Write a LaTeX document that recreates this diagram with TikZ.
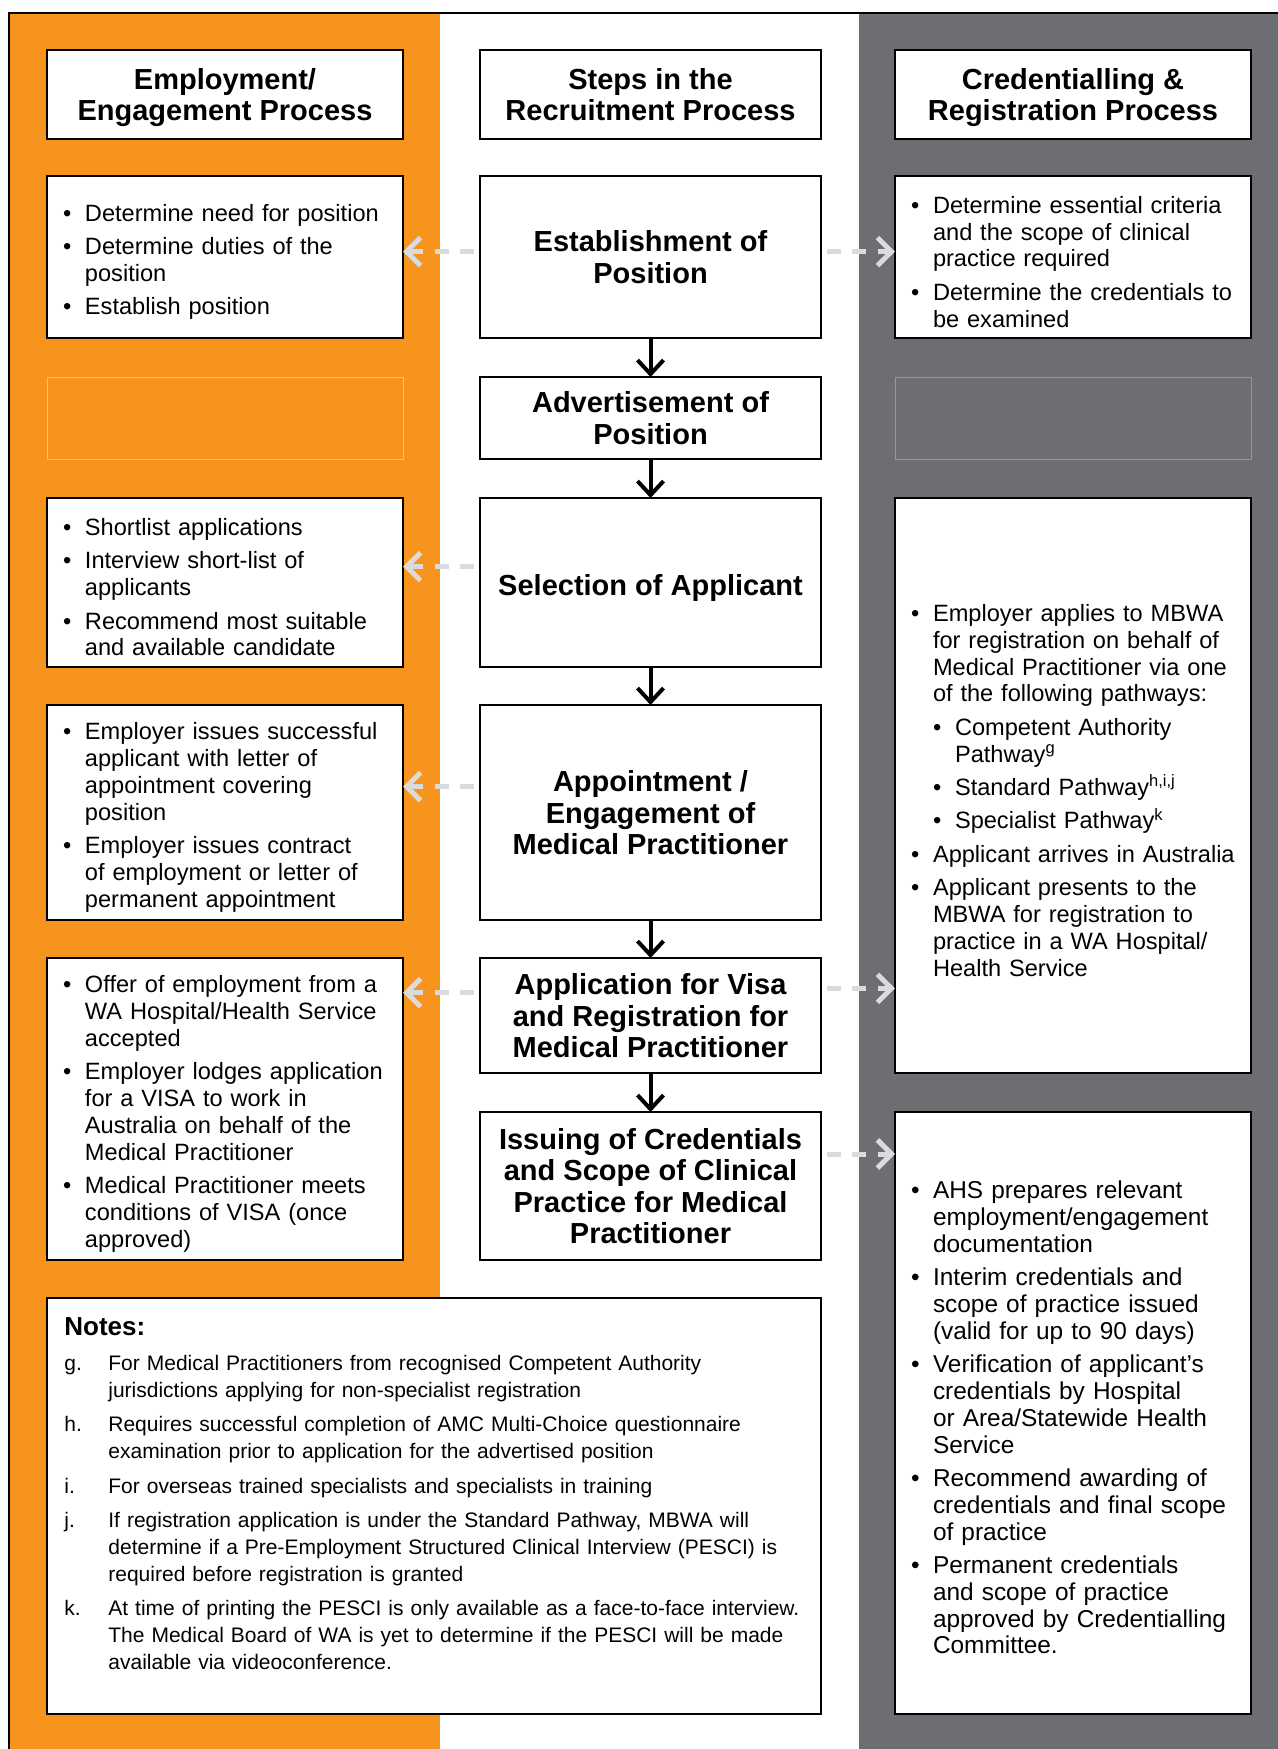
\documentclass[tikz,border=0pt]{standalone}
\usepackage{fontspec}
\setmainfont{Liberation Sans}
\usetikzlibrary{arrows.meta,positioning}
\definecolor{laneorange}{RGB}{247,148,30}
\definecolor{lanegrey}{RGB}{109,110,113}
\definecolor{arrowgrey}{RGB}{218,219,220}
\definecolor{faintorange}{RGB}{251,190,120}
\definecolor{faintgrey}{RGB}{150,151,154}
\newcommand{\ls}{\rule{0pt}{12.8pt}}
\newcommand{\bul}[2][3.3pt]{\par\ifdim#1>0pt\vspace{#1}\fi\hangindent=13pt\hangafter=1\noindent\hspace*{2pt}\makebox[11pt][l]{\textbullet}#2\par}
\newcommand{\sbul}[1]{\par\vspace{3.3pt}\hangindent=24pt\hangafter=1\noindent\hspace*{13pt}\makebox[11pt][l]{\textbullet}#1\par}
\newcommand{\nte}[3][3.8pt]{\par\vspace{#1}\hangindent=22pt\hangafter=1\noindent\makebox[22pt][l]{#2}#3\par}

\begin{document}
\begin{tikzpicture}[x=1pt,y=1pt,
   hd/.style={draw,line width=1.1pt,fill=white,outer sep=0pt,inner sep=3pt,minimum height=44.5pt,
              align=center,font=\fontsize{14.5}{15.8}\selectfont\bfseries,
              text depth=0pt,execute at begin node=\ls},
   stp/.style={hd,minimum width=170.5pt},
   sd/.style={draw,line width=1.1pt,fill=white,outer sep=0pt,inner xsep=6pt,inner ysep=2pt,
              minimum width=178pt,text width=166pt,align=left,font=\fontsize{11.8}{13.4}\selectfont},
   fb/.style={draw,line width=0.4pt,outer sep=0pt,minimum width=178pt,minimum height=41pt},
   dn/.style={-{Straight Barb[length=7pt,width=13pt]},line width=2pt},
   sa/.style={-{Straight Barb[length=7pt,width=14pt]},line width=2.5pt,arrowgrey,
              dash pattern=on 7pt off 5.7pt,shorten <=3pt}]
  \useasboundingbox (0,0) rectangle (639,-874.5);
  \fill[laneorange] (4.5,-6.5) rectangle (220,-874.5);
  \fill[lanegrey] (429.5,-6.5) rectangle (639,-874.5);
  \draw[line width=1.1pt] (4.5,-874.5) -- (4.5,-6.5) -- (639,-6.5);

  \node[stp] (hst) at (325.25,-47.25) {Steps in the\\Recruitment Process};
  \node[hd,minimum width=178pt,left=38.5pt of hst] (hemp) {Employment/\\Engagement Process};
  \node[hd,minimum width=178pt,right=37pt of hst] (hcred) {Credentialling \&\\Registration Process};

  \node[stp,minimum height=81pt,below=18.5pt of hst] (est) {Establishment of\\Position};
  \node[stp,minimum height=41pt,below=19.5pt of est] (adv) {Advertisement of\\Position};
  \node[stp,minimum height=84.5pt,below=19.5pt of adv] (sel) {Selection of Applicant};
  \node[stp,minimum height=107.5pt,below=19pt of sel] (app) {Appointment /\\Engagement of\\Medical Practitioner};
  \node[stp,minimum height=57.5pt,below=19pt of app] (visa) {Application for Visa\\and Registration for\\Medical Practitioner};
  \node[stp,minimum height=74pt,below=19.5pt of visa] (iss) {Issuing of Credentials\\and Scope of Clinical\\Practice for Medical\\Practitioner};

  \node[sd,minimum height=81pt,left=38.5pt of est] (lest) {%
    \bul[0pt]{Determine need for position}
    \bul{Determine duties of the\newline position}
    \bul{Establish position}};
  \node[sd,minimum height=81pt,right=37pt of est] (rest) {%
    \bul[0pt]{Determine essential criteria\newline and the scope of clinical\newline practice required}
    \bul{Determine the credentials to\newline be examined}};
  \node[fb,draw=faintorange,left=38.5pt of adv] (ladv) {};
  \node[fb,draw=faintgrey,right=37pt of adv] (radv) {};
  \node[sd,minimum height=84.5pt,left=38.5pt of sel] (lsel) {%
    \bul[0pt]{Shortlist applications}
    \bul{Interview short-list of\newline applicants}
    \bul{Recommend most suitable\newline and available candidate}};
  \node[sd,minimum height=107.5pt,left=38.5pt of app] (lapp) {%
    \bul[0pt]{Employer issues successful\newline applicant with letter of\newline appointment covering\newline position}
    \bul{Employer issues contract\newline of employment or letter of\newline permanent appointment}};
  \node[sd,minimum height=151pt,anchor=north east] (lvisa) at ([xshift=-38.5pt]visa.north west) {%
    \bul[0pt]{Offer of employment from a\newline WA Hospital/Health Service\newline accepted}
    \bul{Employer lodges application\newline for a VISA to work in\newline Australia on behalf of the\newline Medical Practitioner}
    \bul{Medical Practitioner meets\newline conditions of VISA (once\newline approved)}};
  \node[sd,minimum height=287.5pt,anchor=north west] (rreg) at ([xshift=37pt]sel.north east) {%
    \bul[0pt]{Employer applies to MBWA\newline for registration on behalf of\newline Medical Practitioner via one\newline of the following pathways:}
    \sbul{Competent Authority\newline Pathway\textsuperscript{g}}
    \sbul{Standard Pathway\textsuperscript{h,i,j}}
    \sbul{Specialist Pathway\textsuperscript{k}}
    \bul{Applicant arrives in Australia}
    \bul{Applicant presents to the\newline MBWA for registration to\newline practice in a WA Hospital/\newline Health Service}};
  \node[sd,minimum height=301pt,anchor=north west,font=\fontsize{12.2}{13.4}\selectfont] (riss)
        at ([xshift=37pt]iss.north east) {%
    \bul[0pt]{AHS prepares relevant\newline employment/engagement\newline documentation}
    \bul{Interim credentials and\newline scope of practice issued\newline (valid for up to 90 days)}
    \bul{Verification of applicant’s\newline credentials by Hospital\newline or Area/Statewide Health\newline Service}
    \bul{Recommend awarding of\newline credentials and final scope\newline of practice}
    \bul{Permanent credentials\newline and scope of practice\newline approved by Credentialling\newline Committee.}};

  \node[draw,line width=1.1pt,fill=white,outer sep=0pt,minimum width=387pt,minimum height=208pt,
        anchor=north west] (notes) at ([yshift=-19pt]lvisa.south west) {};
  \node[anchor=north west,inner sep=0pt,text width=375pt,align=left,font=\fontsize{10.5}{13.4}\selectfont]
        (notestxt) at ([xshift=8.5pt,yshift=-9.4pt]notes.north west) {%
    {\fontsize{13}{15}\selectfont\bfseries Notes:}\par
    \nte[4.4pt]{g.}{For Medical Practitioners from recognised Competent Authority\newline jurisdictions applying for non-specialist registration}
    \nte{h.}{Requires successful completion of AMC Multi-Choice questionnaire\newline examination prior to application for the advertised position}
    \nte{i.}{For overseas trained specialists and specialists in training}
    \nte{j.}{If registration application is under the Standard Pathway, MBWA will\newline determine if a Pre-Employment Structured Clinical Interview (PESCI) is\newline required before registration is granted}
    \nte{k.}{At time of printing the PESCI is only available as a face-to-face interview.\newline The Medical Board of WA is yet to determine if the PESCI will be made\newline available via videoconference.}};

  \draw[dn] (est) -- (adv);
  \draw[dn] (adv) -- (sel);
  \draw[dn] (sel) -- (app);
  \draw[dn] (app) -- (visa);
  \draw[dn] (visa) -- (iss);

  \draw[sa] ([yshift=2.7pt]est.west) -- ([yshift=2.7pt]lest.east);
  \draw[sa] ([yshift=2.7pt]est.east) -- ([yshift=2.7pt]rest.west);
  \draw[sa] ([yshift=7.9pt]sel.west) -- ([yshift=7.9pt]lsel.east);
  \draw[sa] ([yshift=13pt]app.west) -- ([yshift=13pt]lapp.east);
  \coordinate (vl) at ([yshift=11.4pt]visa.west);
  \coordinate (vr) at ([yshift=13.6pt]visa.east);
  \coordinate (ir) at ([yshift=16pt]iss.east);
  \draw[sa] (vl) -- (vl -| lvisa.east);
  \draw[sa] (vr) -- (vr -| rreg.west);
  \draw[sa] (ir) -- (ir -| riss.west);
\end{tikzpicture}
\end{document}
